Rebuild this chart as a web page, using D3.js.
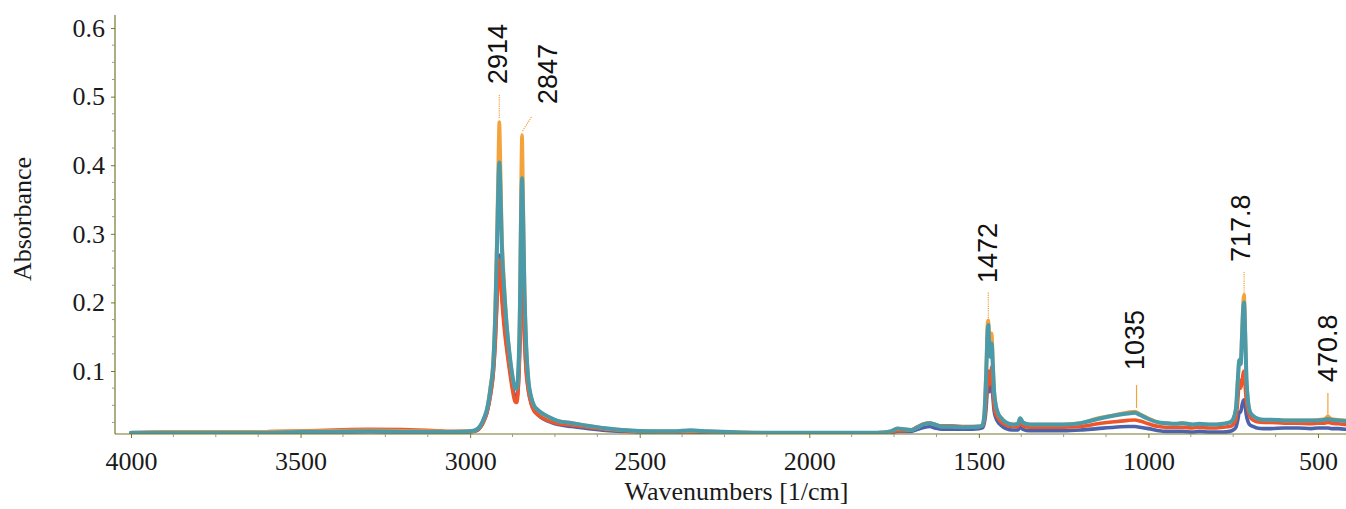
<!DOCTYPE html>
<html>
<head>
<meta charset="utf-8">
<script src="https://cdn.jsdelivr.net/npm/d3@7"></script>
<style>
  html, body { margin: 0; padding: 0; background: #fff; }
  svg { display: block; }
</style>
</head>
<body>
<svg id="chart" width="1346" height="509"></svg>
<script>
// ---------------- DATA ----------------
const wavenumbers = [4000,3900,3800,3700,3600,3500,3400,3300,3200,3100,3050,3000,2980,2960,2950,2940,2932,2926,2920,2916,2914,2911,2907,2900,2893,2885,2876,2868,2863,2858,2853,2850,2847,2844,2840,2835,2828,2820,2812,2800,2780,2760,2740,2700,2650,2600,2550,2500,2450,2400,2350,2300,2200,2100,2000,1900,1800,1760,1740,1720,1700,1680,1660,1645,1630,1610,1580,1540,1500,1490,1484,1478,1474,1472,1469,1465,1462,1459,1455,1450,1444,1435,1420,1400,1385,1378,1370,1350,1300,1250,1200,1150,1100,1060,1040,1025,1000,970,950,920,900,870,850,820,800,780,760,750,742,736,732,728,724,720,718,715,711,706,700,690,680,660,640,600,560,520,500,480,471,460,440,420];

const seriesBlue = [.010,.010,.010,.010,.0105,.011,.011,.0115,.011,.011,.0105,.011,.013,.027,.040,.066,.097,.145,.22,.26,.269,.25,.215,.175,.14,.11,.08,.062,.06,.08,.15,.21,.24,.21,.155,.105,.072,.053,.043,.036,.029,.025,.022,.019,.016,.0135,.012,.011,.011,.011,.011,.0105,.010,.010,.010,.010,.010,.010,.012,.012,.012,.015,.018,.019,.017,.015,.015,.015,.016,.017,.024,.05,.085,.09,.07,.078,.082,.065,.042,.032,.026,.021,.016,.014,.014,.018,.015,.013,.013,.013,.014,.016,.018,.019,.019,.018,.016,.013,.012,.012,.012,.011,.012,.011,.011,.011,.012,.014,.018,.03,.04,.04,.05,.057,.058,.05,.035,.026,.021,.019,.017,.016,.016,.017,.017,.016,.017,.017,.017,.016,.016,.015];

const seriesRed = [.010,.011,.011,.011,.0115,.0125,.014,.015,.0145,.013,.012,.012,.014,.026,.040,.065,.095,.14,.21,.25,.262,.245,.21,.165,.135,.105,.075,.056,.054,.075,.14,.20,.243,.21,.15,.10,.07,.052,.042,.036,.030,.026,.023,.021,.018,.015,.013,.012,.0115,.011,.012,.011,.010,.010,.010,.010,.010,.011,.013,.013,.014,.019,.023,.024,.022,.020,.020,.019,.019,.020,.028,.06,.095,.10,.08,.09,.106,.08,.05,.038,.032,.026,.021,.019,.019,.024,.020,.018,.018,.018,.019,.023,.026,.028,.0285,.027,.023,.019,.018,.018,.018,.017,.018,.017,.017,.018,.019,.022,.03,.06,.087,.075,.085,.098,.10,.08,.055,.042,.033,.028,.026,.025,.025,.024,.024,.023,.024,.024,.025,.024,.023,.022];

const seriesOrange = [.010,.011,.011,.011,.0115,.012,.013,.0135,.013,.012,.0115,.012,.015,.030,.045,.078,.115,.19,.32,.43,.463,.41,.31,.23,.175,.13,.095,.075,.074,.10,.21,.36,.444,.36,.23,.14,.085,.062,.05,.043,.036,.031,.027,.024,.020,.016,.014,.0125,.012,.012,.013,.012,.0105,.010,.010,.010,.010,.012,.016,.015,.014,.018,.023,.024,.022,.019,.019,.018,.019,.021,.038,.11,.172,.174,.14,.13,.155,.12,.072,.05,.039,.032,.025,.022,.023,.031,.025,.022,.022,.022,.024,.031,.036,.040,.041,.037,.031,.025,.024,.023,.024,.022,.023,.022,.022,.023,.025,.03,.045,.09,.116,.11,.16,.205,.211,.17,.09,.055,.04,.034,.031,.029,.029,.028,.028,.028,.029,.030,.034,.030,.029,.028];

const seriesTeal = [.010,.010,.010,.010,.010,.011,.0115,.012,.0115,.011,.011,.012,.015,.030,.045,.075,.11,.18,.30,.385,.404,.37,.29,.22,.17,.13,.095,.075,.074,.10,.20,.32,.381,.33,.22,.14,.085,.062,.05,.043,.036,.031,.027,.024,.020,.0165,.014,.0125,.012,.012,.0135,.012,.0105,.010,.010,.010,.010,.012,.016,.015,.014,.018,.023,.024,.022,.019,.019,.018,.019,.021,.035,.10,.16,.167,.13,.12,.14,.11,.07,.05,.039,.032,.025,.022,.023,.031,.025,.022,.022,.022,.024,.030,.035,.038,.039,.036,.030,.025,.024,.023,.024,.022,.023,.022,.022,.023,.025,.03,.045,.09,.116,.11,.15,.195,.20,.16,.09,.055,.04,.034,.031,.029,.029,.028,.028,.028,.028,.029,.030,.029,.028,.027];

const seriesColors = ["#4a63ad", "#f0552a", "#f4a23c", "#4b9aaa"];

const xTicksMajor = [4000, 3500, 3000, 2500, 2000, 1500, 1000, 500];
const yTicksMajor = [0.1, 0.2, 0.3, 0.4, 0.5, 0.6];
const yTickLabels = ["0.1", "0.2", "0.3", "0.4", "0.5", "0.6"];

const peakWavenumbers = [2914, 2847, 1472, 1035, 717.8, 470.8];
const peakLabels = ["2914", "2847", "1472", "1035", "717.8", "470.8"];

// ---------------- LAYOUT ----------------
const plot = { left: 115, right: 1346, top: 15, bottom: 434 };
const annLayout = [
  { dx: -2,   bottom: 84,  l: [[0, 118], [0, 95]],     dotted: true },
  { dx: 25,   bottom: 104, l: [[0.5, 131], [10, 116]], dotted: true },
  { dx: -1,   bottom: 283, l: [[0, 318], [0, 292]],    dotted: true },
  { dx: -2,   bottom: 370, l: [[0, 408], [0, 385]],    dotted: false },
  { dx: -4,   bottom: 262, l: [[0, 295], [0, 272]],    dotted: true },
  { dx: -1,   bottom: 382, l: [[0, 415], [0, 393]],    dotted: false }
];

const svg = d3.select("#chart");

const x = d3.scaleLinear().domain([4047.2, 417.4]).range([plot.left, plot.right]);
const y = d3.scaleLinear().domain([0.00816, 0.619]).range([plot.bottom, plot.top]);

svg.append("defs").append("clipPath").attr("id", "clip")
  .append("rect").attr("x", plot.left).attr("y", plot.top)
  .attr("width", plot.right - plot.left).attr("height", plot.bottom - plot.top);

const seriesValues = [seriesBlue, seriesRed, seriesOrange, seriesTeal];

const line = d3.line()
  .x(d => x(d[0]))
  .y(d => y(d[1]))
  .curve(d3.curveMonotoneX);

const gLines = svg.append("g").attr("clip-path", "url(#clip)");
seriesValues.forEach((vals, i) => {
  const pts = wavenumbers.map((w, k) => [w, vals[k]]).reverse();
  gLines.append("path")
    .datum(pts)
    .attr("d", line)
    .attr("fill", "none")
    .attr("stroke", seriesColors[i])
    .attr("stroke-width", i === 3 ? 4 : 3.6)
    .attr("stroke-linejoin", "round")
    .attr("stroke-linecap", "round");
});

// ---------------- AXES ----------------
const axisColor = "#77772c";
const minorColor = "#9a9a9a";
const serif = "'Liberation Serif', 'Times New Roman', serif";

const xMinor = d3.range(500, 4001, 125).filter(v => v % 500 !== 0);
const yMinor = d3.range(1, 25).map(k => k * 0.025).filter(v => Math.abs(v * 10 - Math.round(v * 10)) > 1e-6);

const xAxis = d3.axisBottom(x).tickValues(xTicksMajor).tickSize(4).tickFormat(d3.format("d"));
const gx = svg.append("g").attr("transform", `translate(0,${plot.bottom})`).call(xAxis);
gx.select(".domain").attr("stroke", axisColor).attr("stroke-width", 1.2)
  .attr("d", `M${plot.left},0H${plot.right}`);
gx.selectAll(".tick line").attr("stroke", axisColor);
gx.selectAll(".tick text")
  .attr("font-family", serif).attr("font-size", 26).attr("fill", "#1a1a1a")
  .attr("dy", null).attr("y", 36);

svg.append("g").selectAll("line").data(xMinor).join("line")
  .attr("x1", d => x(d)).attr("x2", d => x(d))
  .attr("y1", plot.bottom).attr("y2", plot.bottom + 3)
  .attr("stroke", minorColor).attr("stroke-width", 1);

const yAxis = d3.axisLeft(y).tickValues(yTicksMajor).tickSize(4)
  .tickFormat((d, i) => yTickLabels[i]);
const gy = svg.append("g").attr("transform", `translate(${plot.left},0)`).call(yAxis);
gy.select(".domain").attr("stroke", axisColor).attr("stroke-width", 1.2)
  .attr("d", `M0,${plot.top}V${plot.bottom}`);
gy.selectAll(".tick line").attr("stroke", axisColor);
gy.selectAll(".tick text")
  .attr("font-family", serif).attr("font-size", 26).attr("fill", "#1a1a1a")
  .attr("x", -10);

svg.append("g").selectAll("line").data(yMinor).join("line")
  .attr("x1", plot.left - 3).attr("x2", plot.left)
  .attr("y1", d => y(d)).attr("y2", d => y(d))
  .attr("stroke", minorColor).attr("stroke-width", 1);

svg.append("text")
  .attr("x", (plot.left + plot.right) / 2 + 6).attr("y", 500)
  .attr("text-anchor", "middle")
  .attr("font-family", serif).attr("font-size", 26).attr("fill", "#1a1a1a")
  .text("Wavenumbers [1/cm]");

svg.append("text")
  .attr("transform", "translate(22,219) rotate(-90)")
  .attr("text-anchor", "middle").attr("dy", "0.35em")
  .attr("font-family", serif).attr("font-size", 26).attr("fill", "#1a1a1a")
  .text("Absorbance");

// ---------------- PEAK ANNOTATIONS ----------------
const gAnn = svg.append("g");
peakWavenumbers.forEach((wn, i) => {
  const L = annLayout[i];
  const px = x(wn);
  gAnn.append("line")
    .attr("x1", px + L.l[0][0]).attr("y1", L.l[0][1])
    .attr("x2", px + L.l[1][0]).attr("y2", L.l[1][1])
    .attr("stroke", "#f4a23c").attr("stroke-width", 1.2)
    .attr("stroke-dasharray", L.dotted ? "1.2,1" : null);
  gAnn.append("text")
    .attr("transform", `translate(${px + L.dx},${L.bottom}) rotate(-90)`)
    .attr("text-anchor", "start").attr("dy", "0.36em")
    .attr("font-family", "'Liberation Sans', Arial, sans-serif")
    .attr("font-size", 27).attr("fill", "#111")
    .text(peakLabels[i]);
});
</script>
</body>
</html>
